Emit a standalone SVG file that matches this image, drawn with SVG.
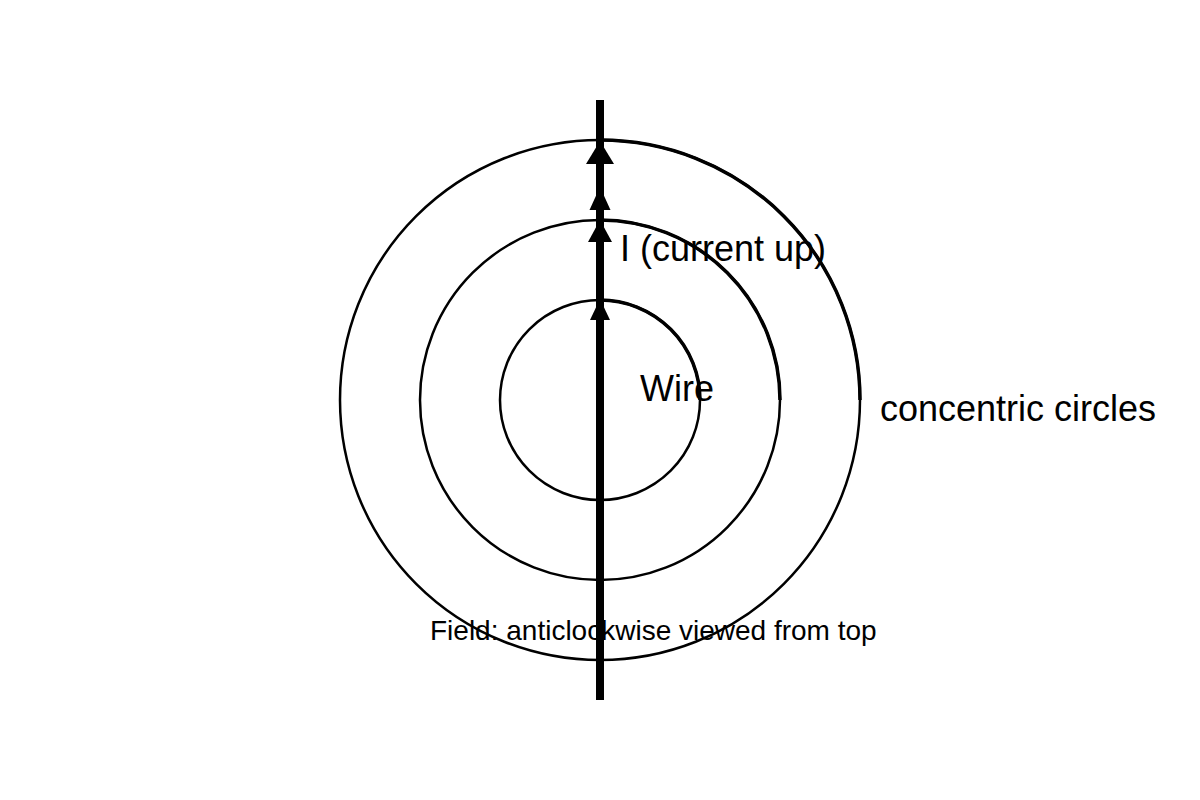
<svg xmlns="http://www.w3.org/2000/svg" width="1200" height="800" viewBox="0 0 1200 800">
<style>
.c{fill:none;stroke:#000;stroke-width:2.5}
.a{fill:none;stroke:#000;stroke-width:3.5}
.t{font-family:"Liberation Sans",Arial,sans-serif;fill:#000}
</style>
<rect width="1200" height="800" fill="#fff"/>
<g id="circles">
<circle class="c" cx="600" cy="400" r="100"/>
<circle class="c" cx="600" cy="400" r="180"/>
<circle class="c" cx="600" cy="400" r="260"/>
</g>
<g id="connectors">
<path class="a" d="M600,300 A100,100 0 0 1 700,400"/>
<path class="a" d="M600,220 A180,180 0 0 1 780,400"/>
<path class="a" d="M600,140 A260,260 0 0 1 860,400"/>
</g>
<g id="wire">
<line x1="600" y1="100" x2="600" y2="700" stroke="#000" stroke-width="8"/>
<polygon points="600,141 614,164 586,164"/>
<polygon points="600,187 610.5,210 589.5,210"/>
<polygon points="600,220 612,242 588,242"/>
<polygon points="600,299 610,320 590,320"/>
</g>
<g id="labels">
<text class="t" x="620" y="261" font-size="36">I (current up)</text>
<text class="t" x="640" y="401" font-size="36">Wire</text>
<text class="t" x="880" y="421" font-size="36">concentric circles</text>
<text class="t" x="430" y="640" font-size="28">Field: anticlockwise viewed from top</text>
</g>
</svg>
